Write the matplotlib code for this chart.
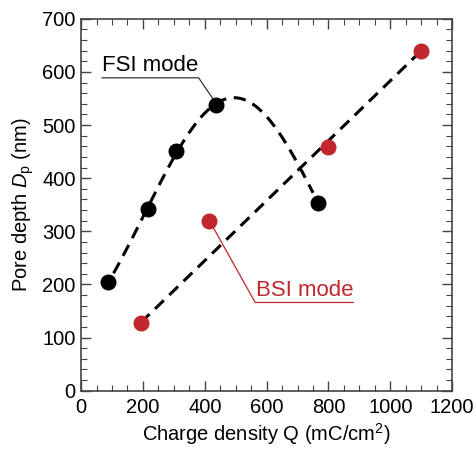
import numpy as np
import matplotlib.pyplot as plt
from matplotlib.ticker import MultipleLocator

plt.rcParams['font.family'] = ['Liberation Sans', 'DejaVu Sans']
plt.rcParams['mathtext.fontset'] = 'custom'
plt.rcParams['mathtext.it'] = 'Liberation Sans:italic'
plt.rcParams['mathtext.rm'] = 'Liberation Sans'

# FSI mode: charge density (mC/cm^2) vs pore depth (nm)
fsi_q = [88, 215, 308, 435, 767]
fsi_d = [204, 342, 451, 538, 353]

# BSI mode
bsi_q = [193, 415, 800, 1100]
bsi_d = [128, 320, 458, 640]

RED = '#c1272d'

fig = plt.figure(figsize=(4.77, 4.49), dpi=100)
ax = fig.add_axes([0.17, 0.13, 0.778, 0.828])

# gaussian-shaped trend for FSI (quadratic fit in log space)
coef = np.polyfit(fsi_q, np.log(fsi_d), 2)
xs = np.linspace(105, 750, 200)
ax.plot(xs, np.exp(np.polyval(coef, xs)), color='black', lw=2.2,
        ls=(0, (4, 2.5)), zorder=2)

# straight trend for the BSI points (first to last)
ax.plot([bsi_q[0], bsi_q[-1]], [bsi_d[0], bsi_d[-1]], color='black', lw=2.2,
        ls=(0, (4, 2.5)), zorder=2)

ax.plot(fsi_q, fsi_d, 'o', color='black', ms=10.5, zorder=3)
ax.plot(bsi_q, bsi_d, 'o', color=RED, ms=10.5, zorder=3)

# FSI label with underline and leader
ax.text(68, 592, 'FSI mode', fontsize=16, ha='left', va='bottom')
ax.plot([68, 380, 428], [589, 589, 548], color='#333333', lw=0.9, zorder=1)

# BSI label with underline and leader
ax.text(565, 169, 'BSI mode', fontsize=16, ha='left', va='bottom', color=RED)
ax.plot([bsi_q[1], 563, 880], [bsi_d[1], 166, 166], color=RED, lw=0.9, zorder=1)

ax.set_xlim(0, 1200)
ax.set_ylim(0, 700)
ax.xaxis.set_major_locator(MultipleLocator(200))
ax.xaxis.set_minor_locator(MultipleLocator(50))
ax.yaxis.set_major_locator(MultipleLocator(100))
ax.yaxis.set_minor_locator(MultipleLocator(20))
ax.tick_params(which='both', direction='in', top=True, right=True,
               colors='#444444', labelcolor='black')
ax.tick_params(which='major', length=7, width=1, labelsize=14.5, pad=4)
ax.tick_params(axis='x', which='major', pad=5.5)
ax.tick_params(which='minor', length=4, width=0.8)
for s in ax.spines.values():
    s.set_color('#444444')
    s.set_linewidth(1.2)

ax.set_xlabel('Charge density Q (mC/cm$^2$)', fontsize=14.5, labelpad=2.5)
ax.set_ylabel('Pore depth $D_{\\mathrm{p}}$ (nm)', fontsize=14.5, labelpad=4)

fig.savefig('out.png', dpi=100)
